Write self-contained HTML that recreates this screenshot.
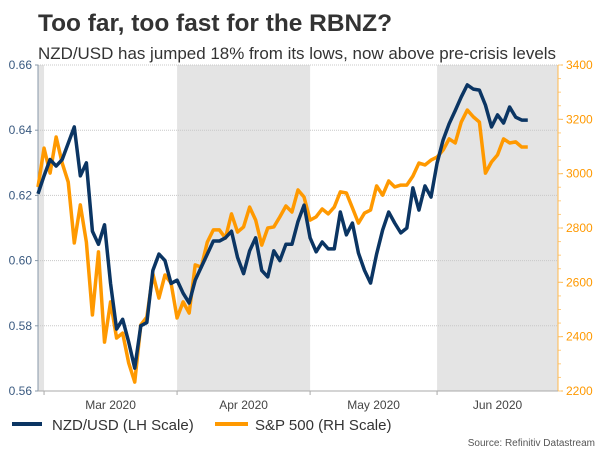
<!DOCTYPE html>
<html><head><meta charset="utf-8"><style>
body{margin:0;background:#fff;}
svg{display:block;font-family:"Liberation Sans",Arial,sans-serif;}
</style></head><body>
<svg id="chart" width="600" height="450" xmlns="http://www.w3.org/2000/svg">
<text x="38" y="31" font-size="24" font-weight="bold" fill="#333" textLength="354" lengthAdjust="spacingAndGlyphs">Too far, too fast for the RBNZ?</text>
<text x="38" y="59" font-size="17" fill="#333" textLength="518" lengthAdjust="spacingAndGlyphs">NZD/USD has jumped 18% from its lows, now above pre-crisis levels</text>
<g id="plot"></g>
<g>
<line x1="12" y1="424" x2="42" y2="424" stroke="#0b3563" stroke-width="4"/>
<text x="52" y="430" font-size="15" fill="#333">NZD/USD (LH Scale)</text>
<line x1="215" y1="424" x2="248" y2="424" stroke="#ff9900" stroke-width="4"/>
<text x="255" y="430" font-size="15" fill="#333">S&amp;P 500 (RH Scale)</text>
</g>
<text x="595" y="446" font-size="10" fill="#555" text-anchor="end">Source: Refinitiv Datastream</text>
</svg>
<script>
const nzd = [0.6205,0.626,0.631,0.629,0.631,0.636,0.641,0.626,0.630,0.609,0.605,0.611,0.593,0.579,0.582,0.575,0.567,0.580,0.581,0.597,0.602,0.600,0.593,0.594,0.590,0.587,0.594,0.598,0.602,0.606,0.606,0.607,0.609,0.601,0.596,0.603,0.607,0.597,0.595,0.603,0.600,0.605,0.605,0.612,0.617,0.607,0.6027,0.6057,0.6036,0.6036,0.6149,0.6079,0.6115,0.6023,0.597,0.5931,0.602,0.6094,0.6149,0.6115,0.6085,0.610,0.6223,0.6155,0.6229,0.6195,0.6299,0.637,0.642,0.646,0.6502,0.6539,0.6526,0.6523,0.6477,0.641,0.6447,0.6422,0.6471,0.644,0.6431,0.6431];
const spx = [2951,3094,3002,3135,3039,2969,2745,2885,2748,2480,2712,2380,2528,2395,2413,2303,2233,2443,2472,2631,2542,2627,2598,2469,2528,2487,2664,2656,2748,2793,2793,2763,2852,2785,2804,2877,2829,2737,2800,2804,2841,2881,2859,2940,2914,2829,2841,2870,2852,2877,2933,2929,2874,2818,2855,2866,2955,2921,2973,2951,2958,2958,2991,3039,3032,3050,3061,3087,3128,3113,3190,3234,3209,3190,3002,3043,3069,3128,3113,3117,3098,3098];
const monthLabels = ["Mar 2020","Apr 2020","May 2020","Jun 2020"];
const monthStarts = [1,23,45,66];
const monthEnd = 86;
const leftTicks = [0.56,0.58,0.60,0.62,0.64,0.66];
const rightTicks = [2200,2400,2600,2800,3000,3200,3400];

const X0=38,X1=558,Y0=391,Y1=65;
const xs = i => X0 + i*(X1-X0)/monthEnd;
const yl = v => Y0 - (v-0.56)/(0.66-0.56)*(Y0-Y1);
const yr = v => Y0 - (v-2200)/(3400-2200)*(Y0-Y1);
const NS="http://www.w3.org/2000/svg";
const g=document.getElementById('plot');
function mk(t,a){const e=document.createElementNS(NS,t);for(const k in a)e.setAttribute(k,a[k]);g.appendChild(e);return e;}

// shaded month bands (Feb sliver, Apr, Jun)
const bands=[[0,monthStarts[0]],[monthStarts[1],monthStarts[2]],[monthStarts[3],monthEnd]];
bands.forEach((b,k)=>{
  const r=mk('rect',{x:xs(b[0]),y:Y1,width:xs(b[1])-xs(b[0]),height:Y0-Y1,fill:'#e4e4e4'});
  
  
});
// gridlines + left ticks
leftTicks.forEach(v=>{
  const l=mk('line',{x1:X0,x2:X1,y1:yl(v),y2:yl(v),stroke:'#c8c8c8','stroke-dasharray':'1,1','stroke-width':1});
  
  
  const t=mk('text',{x:X0-6,y:yl(v)+4,'font-size':12,fill:'#3a5a80','text-anchor':'end'});
  t.textContent=v.toFixed(2);
  
  
  mk('line',{x1:X0-3,x2:X0,y1:yl(v),y2:yl(v),stroke:'#8899aa'});
});
rightTicks.forEach(v=>{
  const t=mk('text',{x:X1+8,y:yr(v)+4,'font-size':12,fill:'#ff9900'});
  t.textContent=v;
  
  
  mk('line',{x1:X1,x2:X1+5,y1:yr(v),y2:yr(v),stroke:'#ffb84d'});
});
for(let v=2200;v<=3400;v+=50){mk('line',{x1:X1,x2:X1+3,y1:yr(v),y2:yr(v),stroke:'#ffcc80'});}
// axes
const la=mk('line',{x1:X0,x2:X0,y1:Y1,y2:Y0,stroke:'#8899aa'});


const ra=mk('line',{x1:X1,x2:X1,y1:Y1,y2:Y0,stroke:'#ffb84d'});


const xa=mk('line',{x1:X0,x2:X1,y1:Y0,y2:Y0,stroke:'#aaa'});


monthStarts.forEach((s,k)=>{
  mk('line',{x1:xs(s),x2:xs(s),y1:Y0,y2:Y0+4,stroke:'#aaa'});
  const e=k<monthStarts.length-1?monthStarts[k+1]:monthEnd;
  const t=mk('text',{x:(xs(s)+xs(e))/2,y:409,'font-size':12,fill:'#444','text-anchor':'middle'});
  t.textContent=monthLabels[k];
  
  
});
// series
const ps=mk('polyline',{points:spx.map((v,i)=>xs(i)+','+yr(v)).join(' '),fill:'none',stroke:'#ff9900','stroke-width':3.5,'stroke-linejoin':'round'});


const pn=mk('polyline',{points:nzd.map((v,i)=>xs(i)+','+yl(v)).join(' '),fill:'none',stroke:'#0b3563','stroke-width':3.5,'stroke-linejoin':'round'});


</script>
</body></html>
